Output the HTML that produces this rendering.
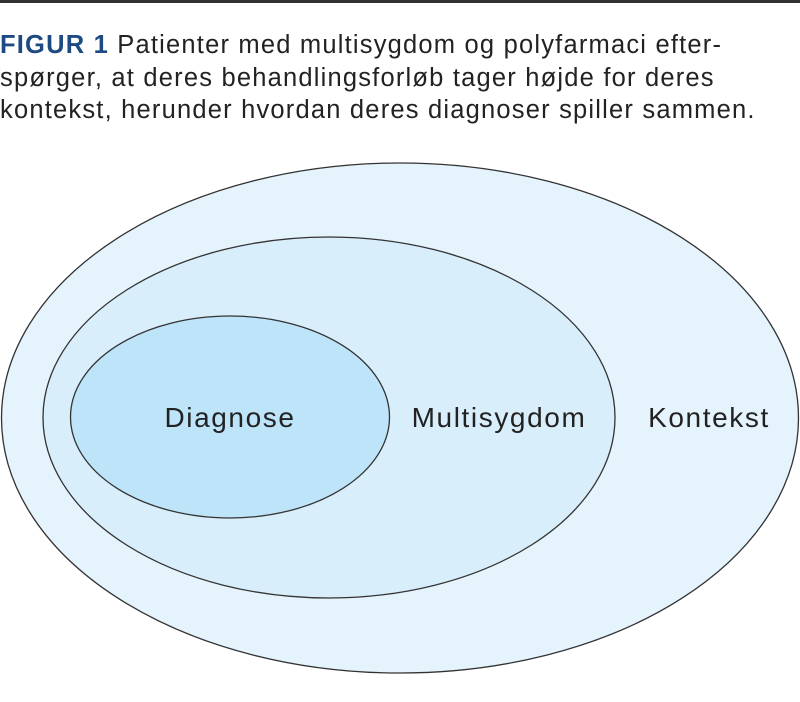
<!DOCTYPE html>
<html><head><meta charset="utf-8"><style>
html,body{margin:0;padding:0;background:#fff;width:800px;height:702px;overflow:hidden}
.cap{position:absolute;left:0;top:29px;width:800px;font-family:"Liberation Sans",sans-serif;font-size:25.5px;line-height:32.5px;color:#222;letter-spacing:1.2px;white-space:nowrap}
.cap b{color:#1d4a82}
</style></head><body>
<div style="position:absolute;left:0;top:0;width:800px;height:3px;background:#333"></div>
<div class="cap"><b>FIGUR 1</b> Patienter med multisygdom og polyfarmaci efter-<br>spørger, at deres behandlingsforløb tager højde for deres<br>kontekst, herunder hvordan deres diagnoser spiller sammen.</div>
<svg width="800" height="702" style="position:absolute;left:0;top:0" font-family="Liberation Sans, sans-serif" font-size="28" fill="#222" letter-spacing="1.6">
<ellipse cx="400" cy="418" rx="398.5" ry="255" fill="#e5f3fc" stroke="#333" stroke-width="1.3"/>
<ellipse cx="329" cy="417.5" rx="286" ry="180.5" fill="#d9eefb" stroke="#333" stroke-width="1.3"/>
<ellipse cx="230" cy="417" rx="159.5" ry="101" fill="#bde4f8" stroke="#333" stroke-width="1.3"/>
<text x="230" y="427" text-anchor="middle">Diagnose</text>
<text x="499" y="427" text-anchor="middle">Multisygdom</text>
<text x="709" y="427" text-anchor="middle">Kontekst</text>
</svg>
</body></html>
